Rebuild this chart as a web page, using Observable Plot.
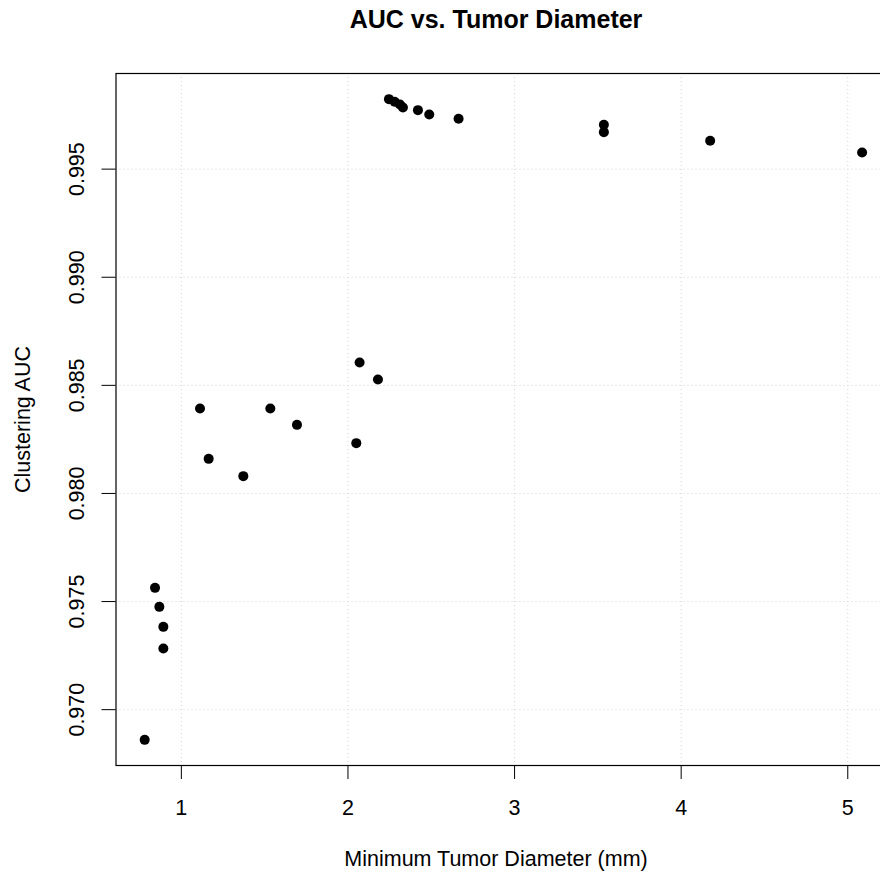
<!DOCTYPE html>
<html>
<head>
<meta charset="utf-8">
<script src="https://cdn.jsdelivr.net/npm/d3@7"></script>
<script src="https://cdn.jsdelivr.net/npm/@observablehq/plot@0.6"></script>
<style>
  html, body { margin: 0; padding: 0; background: #fff; overflow: hidden; }
  #chart svg { max-width: none !important; display: block; }
</style>
</head>
<body>
<div id="chart"></div>
<script>
// Minimum tumor diameter (mm) and the clustering AUC reached at that size
const diameter = [
  0.780, 0.842, 0.868, 0.892, 0.892,
  1.112, 1.164, 1.372, 1.534, 1.694,
  2.050, 2.070, 2.180,
  2.246, 2.280, 2.312, 2.330, 2.420, 2.488, 2.664,
  3.536, 3.536, 4.174, 5.086
];
const auc = [
  0.968603, 0.975634, 0.974755, 0.973830, 0.972831,
  0.983931, 0.981600, 0.980800, 0.983931, 0.983173,
  0.982327, 0.986059, 0.985273,
  0.998238, 0.998113, 0.997993, 0.997854, 0.997729, 0.997530, 0.997327,
  0.997049, 0.996711, 0.996309, 0.995772
];

const xTicks = [1, 2, 3, 4, 5];
const yTicks = [0.970, 0.975, 0.980, 0.985, 0.990, 0.995];

const titleText = "AUC vs. Tumor Diameter";
const xLabel = "Minimum Tumor Diameter (mm)";
const yLabel = "Clustering AUC";

const points = diameter.map((d, i) => ({diameter: d, auc: auc[i]}));

// pad each axis range by 4% on both sides, as base graphics does
function padded(values) {
  const [lo, hi] = d3.extent(values);
  const pad = (hi - lo) * 0.04;
  return [lo - pad, hi + pad];
}

const font = "'Liberation Sans', Arial, Helvetica, sans-serif";
const fs = 21.5;
const marginLeft = 115.5, marginTop = 73, marginBottom = 110;
const width = 920, height = 875;

const chart = Plot.plot({
  width, height,
  marginLeft, marginTop, marginBottom,
  marginRight: 29.7,
  style: {fontFamily: font, color: "black", background: "white", overflow: "hidden"},
  x: {domain: padded(diameter)},
  y: {domain: padded(auc)},
  marks: [
    Plot.gridX(xTicks, {stroke: "#d3d3d3", strokeOpacity: 1, strokeDasharray: "1,3"}),
    Plot.gridY(yTicks, {stroke: "#d3d3d3", strokeOpacity: 1, strokeDasharray: "1,3"}),
    Plot.axisX(xTicks, {tickSize: 14, tickFormat: () => "", label: null, stroke: "black"}),
    Plot.axisY(yTicks, {tickSize: 14, tickFormat: () => "", label: null, stroke: "black"}),
    Plot.frame({stroke: "black", strokeWidth: 1.2}),
    Plot.dot(points, {x: "diameter", y: "auc", r: 5, fill: "black", stroke: "none"}),
    // tick labels
    Plot.text(xTicks, {
      x: d => d, frameAnchor: "bottom", dy: 49, lineAnchor: "bottom",
      text: d => String(d), fontSize: fs, fill: "black"
    }),
    Plot.text(yTicks, {
      y: d => d, frameAnchor: "left", dx: -32.2, rotate: -90,
      lineAnchor: "bottom", textAnchor: "middle",
      text: d => d.toFixed(3), fontSize: fs, fill: "black"
    }),
    // axis titles and main title
    Plot.text([xLabel], {
      frameAnchor: "bottom-left", dx: 495.5 - marginLeft, dy: 100,
      lineAnchor: "bottom", textAnchor: "middle",
      text: d => d, fontSize: fs, fill: "black"
    }),
    Plot.text([yLabel], {
      frameAnchor: "left", dx: 29 - marginLeft, rotate: -90,
      lineAnchor: "bottom", textAnchor: "middle",
      text: d => d, fontSize: fs, fill: "black"
    }),
    Plot.text([titleText], {
      frameAnchor: "top-left", dx: 495.5 - marginLeft, dy: 27.7 - marginTop,
      lineAnchor: "bottom", textAnchor: "middle",
      text: d => d, fontSize: 25, fontWeight: "bold", fill: "black"
    })
  ]
});

document.getElementById("chart").appendChild(chart);
</script>
</body>
</html>
